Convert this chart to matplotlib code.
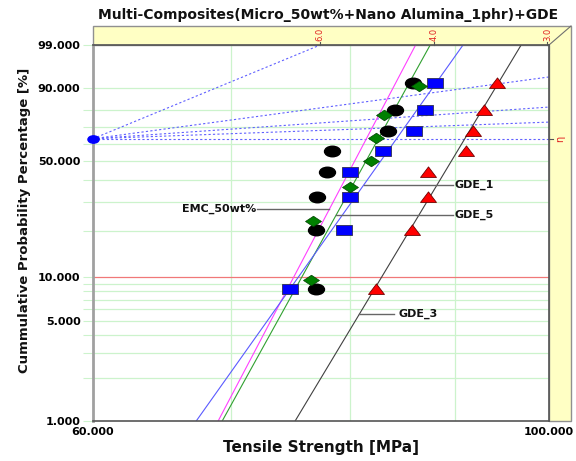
import numpy as np
import matplotlib
matplotlib.use('Agg')
import matplotlib.pyplot as plt
from matplotlib.path import Path
from matplotlib.patches import Polygon
from matplotlib.ticker import NullLocator

# tensile strength [MPa] of each sample set, sorted
emc = [77.0, 77.0, 77.1, 78.0, 78.4, 83.5, 84.2, 85.9]
gde5 = [76.6, 76.8, 80.0, 81.9, 82.4, 83.1, 86.4]
gde1 = [74.8, 79.5, 80.0, 80.0, 83.0, 86.0, 87.0, 88.0]
gde3 = [82.4, 85.8, 87.3, 87.3, 91.1, 91.8, 93.0, 94.3]

# fitted weibull lines: beta, eta
fit_emc = (27.7, 81.5)
fit_gde5 = (26.3, 82.6)
fit_gde1 = (20.5, 84.3)
fit_gde3 = (24.2, 91.0)

# slope indicator lines from the pivot, and beta scale on top
beta_ind = [6.0, 1.97, 1.01, 0.53, 0.0]
beta_ticks = [6.0, 4.0, 3.0]

ytick_vals = [1, 2, 3, 4, 5, 6, 7, 8, 9, 10, 20, 30, 40, 50, 60, 70, 80, 90, 99]
ytick_labeled = [1, 5, 10, 50, 90, 99]
xgrid = [70, 80, 90]


def fwd(p):
    p = np.clip(np.asarray(p, dtype=float), 1e-9, 100 - 1e-9)
    return np.log(-np.log(1 - p / 100.0))


def inv(y):
    y = np.clip(np.asarray(y, dtype=float), -50, 4)
    return 100.0 * (1 - np.exp(-np.exp(y)))


def ranks(n):
    return [(i - 0.3) / (n + 0.4) * 100 for i in range(1, n + 1)]


def fit_ends(beta, eta):
    xs = [eta * (-np.log(0.99)) ** (1 / beta), eta * (-np.log(0.01)) ** (1 / beta)]
    return xs, [1, 99]


def fit_x(beta, eta, p):
    return eta * (-np.log(1 - p / 100.0)) ** (1 / beta)


def shape(pts):
    return Path(pts + [pts[0]], closed=True)

ellipse = Path.unit_circle().transformed(matplotlib.transforms.Affine2D().scale(1, 0.66))
rect = shape([(-1, -0.64), (1, -0.64), (1, 0.64), (-1, 0.64)])
diamond = shape([(0, -0.66), (1, 0), (0, 0.66), (-1, 0)])
tri = shape([(-1, -0.62), (1, -0.62), (0, 0.7)])

fig = plt.figure(figsize=(5.76, 4.61), dpi=100)
ax = fig.add_axes([93 / 576, 1 - 421 / 461, 456 / 576, 376 / 461])
ax.set_xscale('log')
ax.set_yscale('function', functions=(fwd, inv))
ax.set_xlim(60, 100)
ax.set_ylim(1, 99)

gcol = '#ccf3cc'
for v in xgrid:
    ax.axvline(v, color=gcol, lw=0.9, zorder=0)
for v in ytick_vals:
    if v in (1, 99):
        continue
    ax.axhline(v, color='#f07878' if v == 10 else gcol, lw=0.9, zorder=0)

# slope indicator
piv = 100 * (1 - np.exp(-1))
top_w = fwd(99)
for b in beta_ind:
    if b == 0:
        xe, ye = 100, piv
    else:
        w = min(b * np.log(100 / 60.0), top_w)
        xe, ye = 60 * np.exp(w / b), inv(w)
    ax.plot([60, xe], [piv, ye], color='#6060ff', lw=0.8, ls=(0, (2, 2)), zorder=1)
ax.plot([60], [piv], marker=ellipse, ms=8, color='#0000ff', mec='#0000ff', clip_on=False, zorder=6)

# fitted lines
for (b, e), c in [(fit_emc, '#ff40ff'), (fit_gde5, '#30a030'), (fit_gde1, '#5a5aff'), (fit_gde3, '#404040')]:
    xs, ys = fit_ends(b, e)
    ax.plot(xs, ys, color=c, lw=0.8, zorder=2)

# points
ax.plot(gde3, ranks(len(gde3)), ls='none', marker=tri, ms=11.5, mfc='#ff0000', mec='#700000', mew=0.6, zorder=4)
ax.plot(gde1, ranks(len(gde1)), ls='none', marker=rect, ms=11.5, mfc='#0000ff', mec='#303050', mew=0.6, zorder=4)
ax.plot(emc, ranks(len(emc)), ls='none', marker=ellipse, ms=11.5, mfc='#000000', mec='#000000', zorder=4)
ax.plot(gde5, ranks(len(gde5)), ls='none', marker=diamond, ms=11.5, mfc='#008000', mec='#004000', mew=0.5, zorder=5)

# labels with leader lines
lab_kw = dict(fontsize=8, fontweight='bold', color='#111111', va='center')
line_kw = dict(color='#666666', lw=1, zorder=3)
p = 27.25
ax.plot([72.1, fit_x(*fit_emc, p)], [p, p], **line_kw)
ax.text(72.0, p, 'EMC_50wt%', ha='right', **lab_kw)
p = 37.5
ax.plot([fit_x(*fit_gde1, p), 89.8], [p, p], **line_kw)
ax.text(90.0, p, 'GDE_1', ha='left', **lab_kw)
p = 25.06
ax.plot([fit_x(*fit_gde5, p), 89.8], [p, p], **line_kw)
ax.text(90.0, p, 'GDE_5', ha='left', **lab_kw)
p = 5.585
ax.plot([fit_x(*fit_gde3, p), 84.1], [p, p], **line_kw)
ax.text(84.5, p, 'GDE_3', ha='left', **lab_kw)

# ticks
ax.xaxis.set_minor_locator(NullLocator())
ax.yaxis.set_minor_locator(NullLocator())
ax.set_xticks([60, 70, 80, 90, 100], labels=['60.000', '', '', '', '100.000'])
ax.set_yticks(ytick_vals, labels=['%.3f' % v if v in ytick_labeled else '' for v in ytick_vals])
ax.tick_params(axis='x', length=0, pad=4, labelsize=8)
ax.tick_params(axis='y', length=7, pad=2, labelsize=8, color=gcol)
for lab in ax.get_xticklabels() + ax.get_yticklabels():
    lab.set_fontweight('bold')
for t, v in zip(ax.yaxis.get_major_ticks(), ytick_vals):
    if v in (1, 99):
        t.tick1line.set_color('#555555')

for s in ['top', 'right', 'bottom']:
    ax.spines[s].set_color('#555555')
    ax.spines[s].set_linewidth(1.2)
ax.spines['left'].set_color('#a0a0a0')
ax.spines['left'].set_linewidth(2)

# yellow frame on top and right
dx = 22 / 456
dy = 19 / 376
yel = '#ffffc4'
ax.add_patch(Polygon([(0, 1), (1, 1), (1, 0), (1 + dx, 0), (1 + dx, 1 + dy), (0, 1 + dy)],
                     closed=True, transform=ax.transAxes, clip_on=False,
                     fc=yel, ec='#909090', lw=1, zorder=0))
ax.plot([1, 1 + dx], [1, 1 + dy], transform=ax.transAxes, clip_on=False, color='#707070', lw=0.8)

xt = ax.get_xaxis_transform()
for b in beta_ticks:
    xb = 60 * np.exp(top_w / b)
    ax.plot([xb, xb], [1, 1 + 3 / 376], transform=xt, clip_on=False, color='#555555', lw=0.8)
    ax.text(xb, 1 + 4 / 376, '%.1f' % b, transform=xt, rotation=90, ha='center', va='bottom',
            fontsize=6, color='#e02020')
yt = ax.get_yaxis_transform()
ax.plot([1, 1 + 4 / 456], [piv, piv], transform=yt, clip_on=False, color='#555555', lw=0.8)
ax.text(1 + 6 / 456, piv, 'η', transform=yt, rotation=90, ha='left', va='center', fontsize=7, color='#e02020')

fig.text(328 / 576, 1 - 15 / 461, 'Multi-Composites(Micro_50wt%+Nano Alumina_1phr)+GDE',
         ha='center', va='center', fontsize=10, fontweight='bold', color='#111111')
fig.text(321 / 576, 1 - 447 / 461, 'Tensile Strength [MPa]', ha='center', va='center',
         fontsize=11, fontweight='bold', color='#111111')
fig.text(25 / 576, 1 - 220 / 461, 'Cummulative Probability Percentage [%]', ha='center', va='center',
         rotation=90, fontsize=9.5, fontweight='bold', color='#111111')

fig.savefig('out.png', dpi=100)
